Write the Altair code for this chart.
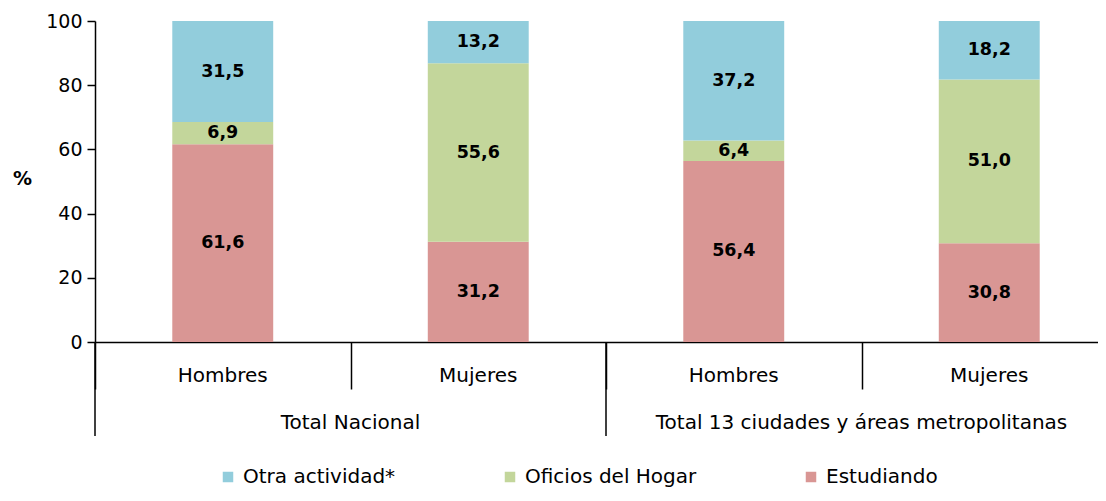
import altair as alt
import pandas as pd

groups = ["Total Nacional", "Total 13 ciudades y  áreas metropolitanas"]
sexes = ["Hombres", "Mujeres"]
series = ["Otra actividad*", "Oficios del Hogar", "Estudiando"]
colors = ["#92CDDC", "#C3D69B", "#D99694"]
estudiando = [61.6, 31.2, 56.4, 30.8]
oficios = [6.9, 55.6, 6.4, 51.0]
otra = [31.5, 13.2, 37.2, 18.2]
y_ticks = [0, 20, 40, 60, 80, 100]

FONT = "DejaVu Sans"

keys, rows, cat_rows, group_rows, long_rows = [], [], [], [], []
i = 0
for g in groups:
    for j, s in enumerate(sexes):
        key = f"{g}|{s}"
        keys.append(key)
        cat_rows.append({"key": key, "sex": s})
        if j == 0:
            long_rows.append({"key": key})
        if j == 1:
            group_rows.append({"key": key, "group": g})
        for order, (name, vals) in enumerate(
            [("Estudiando", estudiando), ("Oficios del Hogar", oficios), ("Otra actividad*", otra)]
        ):
            rows.append({"key": key, "serie": name, "value": vals[i], "order": order})
        i += 1

df = pd.DataFrame(rows)
cats = pd.DataFrame(cat_rows)
grp = pd.DataFrame(group_rows)
longs = pd.DataFrame(long_rows)

xscale = alt.Scale(type="band", domain=keys, range=[0, 1022], paddingInner=0, paddingOuter=0)
x_axis = alt.Axis(labels=False, title=None, tickBand="extent", tickSize=47, tickColor="black",
                  tickWidth=1.5, domainColor="black", domainWidth=1.5)
yscale = alt.Scale(domain=[0, 100], nice=False)

stacked = alt.Chart(df).transform_stack(
    stack="value", groupby=["key"], sort=[alt.SortField("order", order="ascending")], as_=["y0", "y1"]
)

bars = stacked.mark_bar(width=alt.RelativeBandSize(0.395)).encode(
    x=alt.X("key:N", scale=xscale, axis=x_axis),
    y=alt.Y("y0:Q", scale=yscale, axis=alt.Axis(
        values=y_ticks, title="%", titleAngle=0, titleFontWeight="bold", titleFontSize=19,
        titleX=-73, titleY=157, titleAlign="center", titleBaseline="middle", titleColor="black",
        labelFontSize=19, labelColor="black", labelPadding=5, tickSize=8, tickColor="black",
        tickWidth=1.5, domainColor="black", domainWidth=1.5, grid=False)),
    y2="y1:Q",
    color=alt.Color("serie:N", scale=alt.Scale(domain=series, range=colors), legend=alt.Legend(
        title=None, orient="none", legendX=123, legendY=446, direction="horizontal",
        symbolType="square", symbolSize=110, symbolStrokeWidth=0, labelFontSize=20,
        labelFont=FONT, labelColor="black", labelLimit=400, columnPadding=104, labelOffset=5,
        padding=0)),
)

labels = stacked.transform_calculate(
    mid="(datum.y0 + datum.y1) / 2",
    lab="replace(format(datum.value, '.1f'), '.', ',')",
).mark_text(font=FONT, fontWeight="bold", fontSize=17.5, color="black", baseline="middle").encode(
    x=alt.X("key:N", scale=xscale, axis=x_axis),
    y=alt.Y("mid:Q", scale=yscale),
    text="lab:N",
)

short_labels = alt.Chart(cats).mark_text(font=FONT, fontSize=20, color="black", baseline="middle").encode(
    x=alt.X("key:N", scale=xscale, axis=x_axis),
    y=alt.value(355),
    text="sex:N",
)

group_labels = alt.Chart(grp).mark_text(font=FONT, fontSize=20, color="black", baseline="middle").encode(
    x=alt.X("key:N", scale=xscale, axis=x_axis, bandPosition=0),
    y=alt.value(402),
    text="group:N",
)

long_rules = alt.Chart(longs).mark_rule(color="black", strokeWidth=1.5).encode(
    x=alt.X("key:N", scale=xscale, axis=x_axis, bandPosition=0),
    y=alt.value(321),
    y2=alt.value(415),
)

chart = alt.layer(bars, labels, short_labels, group_labels, long_rules).properties(
    width=1003, height=321,
    autosize=alt.AutoSizeParams(type="none"),
    padding={"left": 87, "top": 13, "right": 0, "bottom": 151},
).configure_view(stroke=None).configure_axis(labelFont=FONT, titleFont=FONT)

chart.save("out.html", embed_options={"renderer": "svg", "actions": False})
